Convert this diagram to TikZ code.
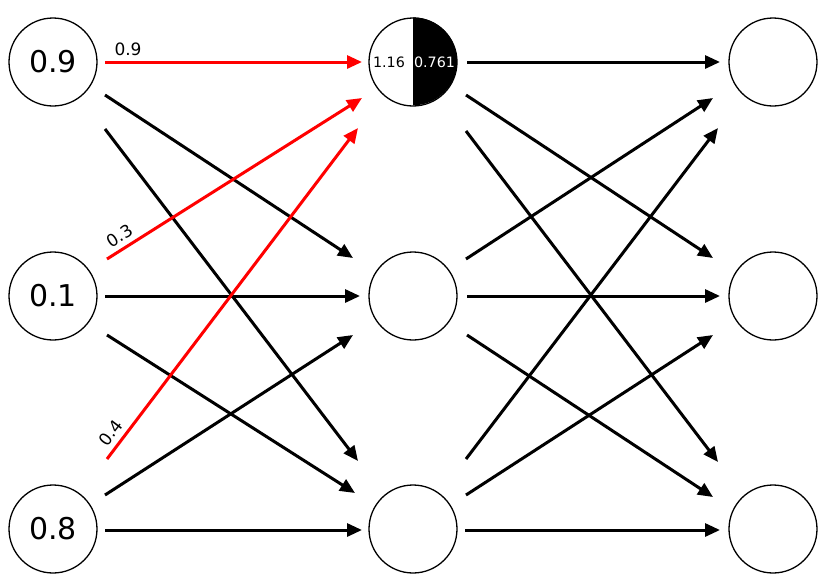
\documentclass[tikz,border=0pt]{standalone}
\usepackage{fontspec}
\setmainfont{DejaVu Sans}
\usetikzlibrary{arrows.meta}
\begin{document}
\begin{tikzpicture}[x=1pt,y=-1pt,
  neuron/.style={circle,draw=black,line width=1.3pt,minimum size=88pt,inner sep=0pt,font=\fontsize{30}{34}\selectfont},
  arr/.style={line width=3pt,-{Triangle[length=15pt,width=13pt]}},
  redarr/.style={arr,draw=red,color=red},
  wlabel/.style={pos=0,sloped,anchor=south west,inner xsep=8pt,inner ysep=5pt,text=black,font=\fontsize{17}{20}\selectfont},
  halflabel/.style={inner sep=0pt,font=\fontsize{14.3}{16}\selectfont}]
\useasboundingbox (0,0) rectangle (833,582);
% nodes
\node[neuron] (a0) at (53,62) {0.9};
\node[neuron] (a1) at (53,296) {0.1};
\node[neuron] (a2) at (53,529) {0.8};
\node[neuron] (b0) at (413,62) {};
\node[neuron] (b1) at (413,296) {};
\node[neuron] (b2) at (413,529) {};
\node[neuron] (c0) at (773,62) {};
\node[neuron] (c1) at (773,296) {};
\node[neuron] (c2) at (773,529) {};
% half filled neuron
\fill[black] (b0.north) arc[start angle=90,end angle=-90,radius=44pt] -- cycle;
\node[halflabel,text=black] (b0in) at ([shift={(-24,0)}]b0.center) {1.16};
\node[halflabel,text=white] (b0out) at ([shift={(21.5,0)}]b0.center) {0.761};
% layer 1
\draw[redarr] ([shift={(52,0)}]a0.center) -- node[wlabel]{0.9} ([shift={(-51,0)}]b0.center);
\draw[arr] ([shift={(52,33)}]a0.center) -- ([shift={(-60,-38)}]b1.center);
\draw[arr] ([shift={(52,67)}]a0.center) -- ([shift={(-55,-68)}]b2.center);
\draw[redarr] ([shift={(54,-37)}]a1.center) -- node[wlabel]{0.3} ([shift={(-51,36)}]b0.center);
\draw[arr] ([shift={(52,0)}]a1.center) -- ([shift={(-53,0)}]b1.center);
\draw[arr] ([shift={(54,39)}]a1.center) -- ([shift={(-58,-36)}]b2.center);
\draw[redarr] ([shift={(54,-70)}]a2.center) -- node[wlabel]{0.4} ([shift={(-55,66)}]b0.center);
\draw[arr] ([shift={(52,-34)}]a2.center) -- ([shift={(-60,39)}]b1.center);
\draw[arr] ([shift={(52,1)}]a2.center) -- ([shift={(-51,1)}]b2.center);
% layer 2
\draw[arr] ([shift={(54,0)}]b0.center) -- ([shift={(-53,0)}]c0.center);
\draw[arr] ([shift={(53,33)}]b0.center) -- ([shift={(-60,-38)}]c1.center);
\draw[arr] ([shift={(53,69)}]b0.center) -- ([shift={(-55,-67)}]c2.center);
\draw[arr] ([shift={(53,-37)}]b1.center) -- ([shift={(-60,36)}]c0.center);
\draw[arr] ([shift={(54,0)}]b1.center) -- ([shift={(-53,0)}]c1.center);
\draw[arr] ([shift={(54,39)}]b1.center) -- ([shift={(-60,-32)}]c2.center);
\draw[arr] ([shift={(53,-70)}]b2.center) -- ([shift={(-55,66)}]c0.center);
\draw[arr] ([shift={(53,-34)}]b2.center) -- ([shift={(-60,39)}]c1.center);
\draw[arr] ([shift={(52,1)}]b2.center) -- ([shift={(-53,1)}]c2.center);
\end{tikzpicture}
\end{document}
